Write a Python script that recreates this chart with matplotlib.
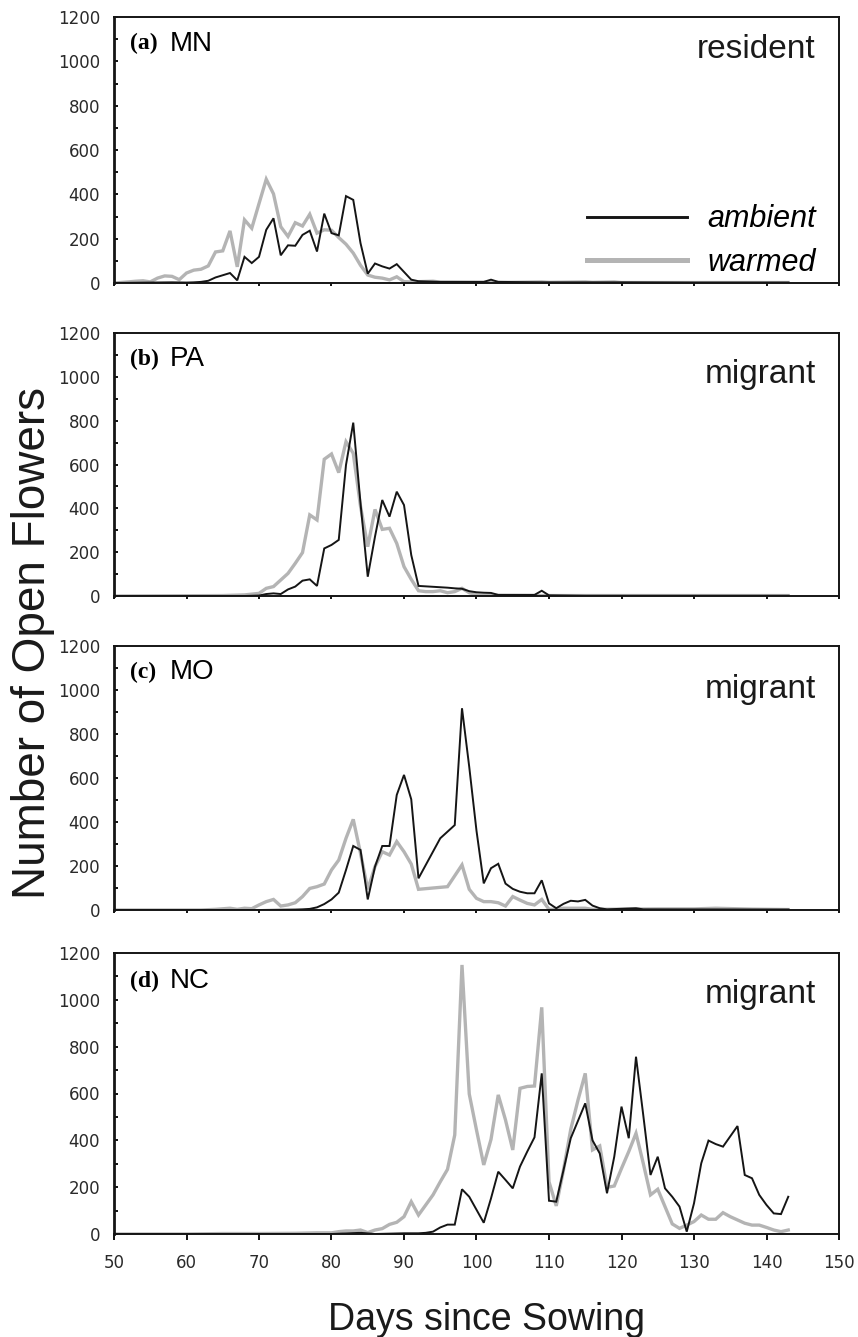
import matplotlib
matplotlib.use("Agg")
import matplotlib.pyplot as plt
from matplotlib.ticker import MultipleLocator

# flower counts per day since sowing (ambient = black, warmed = grey)
mn_amb_days = [50, 55, 58, 60, 61, 62, 63, 64, 65, 66, 67, 68, 69, 70, 71, 72, 73, 74, 75, 76, 77, 78, 79,
               80, 81, 82, 83, 84, 85, 86, 87, 88, 89, 90, 91, 92, 95, 100, 101, 102, 103, 110, 120, 130, 143]
mn_amb = [0, 2, 3, 2, 3, 5, 10, 25, 35, 45, 12, 118, 90, 118, 240, 292, 125, 170, 168, 217, 236, 142, 313,
          225, 215, 392, 375, 180, 42, 88, 75, 65, 85, 50, 15, 8, 5, 5, 5, 15, 5, 3, 3, 2, 2]
mn_warm_days = [50, 52, 53, 54, 55, 56, 57, 58, 59, 60, 61, 62, 63, 64, 65, 66, 67, 68, 69, 70, 71, 72, 73,
                74, 75, 76, 77, 78, 79, 80, 81, 82, 83, 84, 85, 86, 87, 88, 89, 90, 91, 94, 95, 100, 105,
                109, 110, 115, 116, 119, 120, 130, 143]
mn_warm = [0, 5, 8, 10, 5, 22, 32, 30, 15, 45, 58, 62, 77, 140, 145, 235, 73, 285, 247, 358, 468, 402, 254,
           210, 272, 257, 310, 225, 240, 238, 205, 175, 135, 80, 36, 26, 22, 14, 28, 6, 5, 8, 4, 3, 3,
           5, 3, 5, 3, 5, 2, 2, 2]

pa_amb_days = [50, 68, 70, 71, 72, 73, 74, 75, 76, 77, 78, 79, 80, 81, 82, 83, 84, 85, 86, 87, 88, 89, 90,
               91, 92, 93, 94, 95, 96, 97, 98, 99, 100, 101, 102, 103, 108, 109, 110, 115, 143]
pa_amb = [0, 0, 2, 9, 12, 9, 30, 43, 70, 76, 46, 217, 233, 256, 598, 791, 423, 88, 271, 438, 362, 476, 415,
          187, 46, 44, 42, 40, 38, 35, 33, 22, 17, 15, 14, 5, 5, 24, 3, 1, 1]
pa_warm_days = [50, 65, 68, 70, 71, 72, 73, 74, 75, 76, 77, 78, 79, 80, 81, 82, 83, 84, 85, 86, 87, 88, 89,
                90, 91, 92, 93, 94, 95, 96, 97, 98, 99, 100, 101, 110, 143]
pa_warm = [0, 2, 5, 12, 35, 43, 73, 103, 149, 198, 370, 347, 624, 648, 563, 704, 651, 410, 225, 395, 304,
           309, 240, 134, 76, 24, 20, 20, 24, 15, 20, 35, 15, 5, 3, 2, 2]

mo_amb_days = [50, 70, 75, 76, 77, 78, 79, 80, 81, 82, 83, 84, 85, 86, 87, 88, 89, 90, 91, 92, 95, 97, 98,
               99, 100, 101, 102, 103, 104, 105, 106, 107, 108, 109, 110, 111, 112, 113, 114, 115, 116,
               117, 118, 122, 123, 143]
mo_amb = [0, 0, 2, 3, 5, 12, 27, 48, 79, 182, 291, 273, 48, 197, 291, 291, 523, 614, 503, 144, 326, 386,
          917, 650, 360, 121, 190, 210, 120, 96, 83, 76, 76, 135, 30, 8, 28, 42, 39, 46, 20, 8, 3, 8, 3, 2]
mo_warm_days = [50, 62, 64, 66, 67, 68, 69, 70, 71, 72, 73, 74, 75, 76, 77, 78, 79, 80, 81, 82, 83, 84, 85,
                86, 87, 88, 89, 90, 91, 92, 96, 98, 99, 100, 101, 102, 103, 104, 105, 106, 107, 108, 109,
                110, 111, 112, 115, 116, 125, 130, 133, 138, 143]
mo_warm = [0, 0, 3, 8, 3, 8, 6, 23, 38, 48, 18, 23, 33, 61, 98, 106, 118, 182, 227, 326, 412, 258, 94,
           197, 265, 250, 311, 265, 209, 94, 106, 205, 94, 53, 38, 38, 33, 18, 61, 45, 30, 23, 48,
           3, 3, 8, 8, 3, 5, 5, 8, 4, 2]

nc_amb_days = [50, 80, 84, 86, 90, 92, 93, 94, 95, 96, 97, 98, 99, 101, 102, 103, 104, 105, 106, 107, 108,
               109, 110, 111, 112, 113, 115, 116, 117, 118, 119, 120, 121, 122, 123, 124, 125, 126, 127,
               128, 129, 130, 131, 132, 133, 134, 136, 137, 138, 139, 140, 141, 142, 143]
nc_amb = [0, 0, 5, 0, 3, 3, 5, 10, 28, 40, 40, 191, 159, 48, 152, 266, 231, 195, 288, 352, 413,
          686, 142, 138, 273, 409, 558, 400, 344, 174, 330, 544, 409, 757, 508, 252, 330, 195, 159,
          117, 10, 131, 302, 399, 384, 373, 461, 252, 238, 167, 124, 88, 85, 159]
nc_warm_days = [50, 60, 65, 70, 75, 78, 80, 81, 82, 83, 84, 85, 86, 87, 88, 89, 90, 91, 92, 93, 94, 95, 96,
                97, 98, 99, 100, 101, 102, 103, 104, 105, 106, 107, 108, 109, 110, 111, 112, 113, 114,
                115, 116, 117, 118, 119, 120, 121, 122, 123, 124, 125, 126, 127, 128, 129, 130, 131,
                132, 133, 134, 135, 136, 137, 138, 139, 140, 141, 142, 143]
nc_warm = [0, 0, 2, 2, 3, 5, 5, 10, 13, 13, 17, 6, 17, 23, 41, 50, 74, 138, 81, 124, 167, 223, 276,
           423, 1149, 598, 444, 295, 404, 594, 487, 359, 622, 630, 632, 968, 223, 120, 273, 447, 572,
           686, 359, 376, 199, 205, 280, 352, 430, 302, 167, 191, 117, 43, 24, 38, 53, 81,
           63, 63, 91, 74, 60, 46, 38, 38, 28, 17, 10, 17]

panels = [
    ("(a)", "MN", "resident", mn_amb_days, mn_amb, mn_warm_days, mn_warm),
    ("(b)", "PA", "migrant", pa_amb_days, pa_amb, pa_warm_days, pa_warm),
    ("(c)", "MO", "migrant", mo_amb_days, mo_amb, mo_warm_days, mo_warm),
    ("(d)", "NC", "migrant", nc_amb_days, nc_amb, nc_warm_days, nc_warm),
]

W, H = 858, 1337
# axes boxes in pixels: top, bottom
boxes = [(17, 283), (333, 596), (646, 910), (953, 1234)]
left, right = 114, 839
status_y = [0.846, 0.81, 0.803, 0.822]

BLACK = "#151515"
GREY = "#b4b4b4"
TICK_COL = "#2a2a2a"

fig = plt.figure(figsize=(W / 100, H / 100), dpi=100)

for i, (letter, site, status, ad, av, wd, wv) in enumerate(panels):
    top, bot = boxes[i]
    ax = fig.add_axes([left / W, 1 - bot / H, (right - left) / W, (bot - top) / H])
    ax.plot(wd, wv, color=GREY, lw=2.4, solid_joinstyle="miter", label="warmed", zorder=2)
    ax.plot(ad, av, color=BLACK, lw=1.4, solid_joinstyle="miter", label="ambient", zorder=3)

    ax.set_xlim(50, 150)
    ax.set_ylim(0, 1200)
    ax.yaxis.set_major_locator(MultipleLocator(200))
    ax.yaxis.set_minor_locator(MultipleLocator(100))
    ax.xaxis.set_major_locator(MultipleLocator(10))
    ax.tick_params(axis="y", which="both", direction="in", length=3, width=1.3,
                   labelsize=12, labelcolor=TICK_COL, pad=10)
    last = i == len(panels) - 1
    ax.tick_params(axis="x", which="both", direction="out", length=4.5 if last else 2.5, width=1.3,
                   labelsize=12, labelcolor=TICK_COL, pad=10, labelbottom=last)
    for side in ["top", "right", "bottom"]:
        ax.spines[side].set_linewidth(1.4)
        ax.spines[side].set_color(BLACK)
    ax.spines["left"].set_linewidth(2.0)
    ax.spines["left"].set_color(BLACK)

    ax.text(0.022, 0.9, letter, transform=ax.transAxes, fontsize=17, fontweight="bold",
            family="Liberation Serif", va="center", ha="left")
    ax.text(0.077, 0.9, site, transform=ax.transAxes, fontsize=20,
            family="Liberation Sans", va="center", ha="left")
    ax.text(0.968, status_y[i], status, transform=ax.transAxes, fontsize=24,
            family="Liberation Sans", va="baseline", ha="right", color="#1a1a1a")

    if i == 0:
        h, l = ax.get_legend_handles_labels()
        leg = ax.legend(h[::-1], l[::-1], loc="lower right", bbox_to_anchor=(1.006, -0.085),
                        frameon=False, handlelength=3.3, handletextpad=0.65, labelspacing=0.45,
                        prop={"family": "Liberation Sans", "style": "italic", "size": 22})
        for line in leg.get_lines():
            line.set_linewidth(line.get_linewidth() * 1.5)

fig.text(0.0385, 1 - 643 / H, "Number of Open Flowers", rotation=90, fontsize=33,
         family="Liberation Sans", ha="center", va="center", color="#1a1a1a")
fig.text(486 / W, 1 - 1330 / H, "Days since Sowing", fontsize=27,
         family="Liberation Sans", ha="center", va="baseline", color="#1a1a1a")

fig.savefig("out.png", dpi=100)
